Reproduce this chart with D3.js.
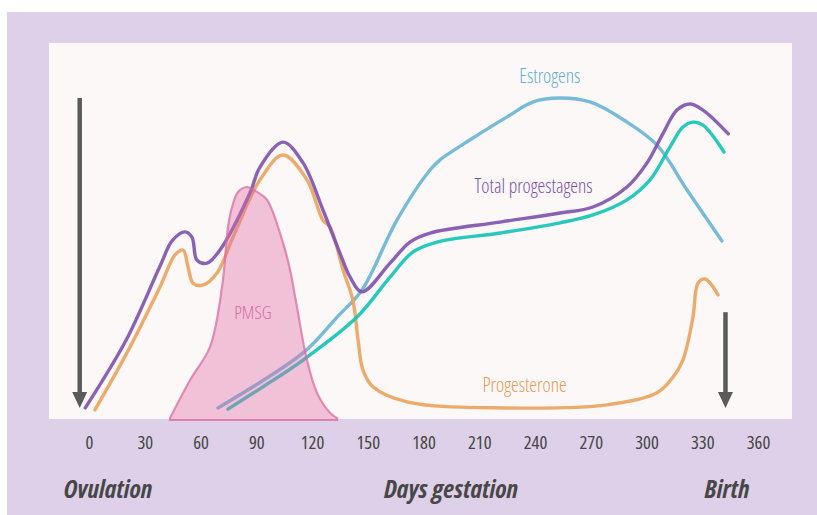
<!DOCTYPE html>
<html lang="en">
<head>
<meta charset="UTF-8">
<title>Hormones during gestation</title>
<script src="https://d3js.org/d3.v7.min.js"></script>
<style>
    body { margin: 0; background: #fff; }
    svg text { font-family: 'Open Sans', 'Liberation Sans Narrow', sans-serif; font-stretch: condensed; }
    .series-label { font-size: 19.5px; font-weight: 300; }
    .foot { font-size: 25.5px; font-weight: 700; font-style: italic; fill: #474747; }
</style>
</head>
<body>
<div id="chart"></div>
<script>
// days of gestation on x, relative level (0-100) on y
const dayTicks = [0, 30, 60, 90, 120, 150, 180, 210, 240, 270, 300, 330, 360];

const progestagensDays = [-2, 20, 38, 45, 51.7, 55.4, 58.1, 63.5, 70.5, 86.6, 92, 104.4, 115.2, 125.9, 135, 140.5, 146.9, 162, 172.7, 183.5, 221.2, 253.5, 271.2, 289.5, 300.3, 309, 316.4, 323.4, 330.4, 344];
const progestagensVals = [3.2, 21.2, 40.6, 47.7, 49.9, 48.5, 42.4, 41.6, 45.1, 60.2, 67.1, 73.7, 68.2, 55.7, 44.3, 37.9, 34, 41.6, 47.2, 49.6, 52.5, 54.9, 56.5, 61.8, 68.2, 76.1, 82.2, 83.8, 82.2, 75.9];

const progesteroneDays = [3.2, 20.4, 38.2, 46.3, 50.6, 53.3, 56, 61.3, 68.9, 77.5, 92, 104.4, 117.3, 125.9, 129.7, 136.7, 142, 144.8, 147.4, 152.8, 171.1, 225, 278.7, 305.7, 314.3, 319.6, 325, 327.7, 331.5, 338.5];
const progesteroneVals = [2.7, 17.8, 35.3, 43.8, 45.1, 40.6, 36.3, 35.8, 39, 48.5, 63.7, 70.3, 63.7, 53, 51.2, 39.8, 31.8, 21.2, 13.3, 8.8, 4.8, 3.2, 4, 7.2, 11.4, 15.9, 27.3, 36.3, 37.4, 33.2];

const estrogensDays = [69.4, 115.2, 133.5, 146.9, 165.7, 183.5, 188.9, 206.6, 225, 239, 253.5, 270, 288, 305.7, 321.8, 340.6];
const estrogensVals = [3.2, 17.8, 27.3, 34.5, 53, 66.3, 69, 74.8, 80.4, 84.4, 85.4, 84.3, 79.5, 72.9, 61, 47.5];

const tealDays = [74.8, 93.6, 115.2, 144.2, 162, 174.4, 187.3, 221.2, 253.5, 271.2, 289.5, 301.9, 312.6, 319.6, 325, 330.4, 341.7];
const tealVals = [2.9, 8.8, 15.9, 27.3, 37.9, 44.6, 47.2, 49.6, 52.3, 54.4, 58.4, 63.7, 72.4, 77.7, 79, 78.2, 71.1];

const pmsgDays = [43.6, 54.4, 65.1, 71.6, 74.8, 77, 80.2, 85, 90.4, 95.8, 104.4, 108.2, 111.9, 117.3, 122.7, 129.7, 133.5];
const pmsgVals = [0.5, 10.6, 19.4, 35.3, 51.2, 56.5, 60.5, 61.8, 60.5, 58.4, 47, 39.8, 30, 15.9, 7.2, 1.9, 0.5];

// event arrows: ovulation and birth
const arrowDays = [-5, 342.5];
const arrowTops = [85.4, 28.6];
const arrowTip = 3.2;

const width = 817, height = 515;

const svg = d3.select("#chart").append("svg")
    .attr("width", width)
    .attr("height", height);

svg.append("rect").attr("x", 7).attr("y", 12).attr("width", 810).attr("height", 503).attr("fill", "#ddd0e8");
svg.append("rect").attr("x", 49).attr("y", 43).attr("width", 743).attr("height", 376).attr("fill", "#fcf8f8");

const x = d3.scaleLinear().domain([0, 360]).range([89, 758]);
const y = d3.scaleLinear().domain([0, 100]).range([420, 43]);

const zip = (ds, vs) => ds.map((d, i) => ({day: d, v: vs[i]}));

const line = d3.line()
    .x(d => x(d.day))
    .y(d => y(d.v))
    .curve(d3.curveCatmullRom.alpha(0.5));

const series = [
    {pts: zip(estrogensDays, estrogensVals), color: "#6ab5d5"},
    {pts: zip(progesteroneDays, progesteroneVals), color: "#eba45e"},
    {pts: zip(tealDays, tealVals), color: "#14c4b6"},
    {pts: zip(progestagensDays, progestagensVals), color: "#7f55b0"}
];

svg.append("g").selectAll("path")
    .data(series)
    .enter().append("path")
    .attr("d", d => line(d.pts))
    .attr("fill", "none")
    .attr("stroke", d => d.color)
    .attr("stroke-width", 3.4)
    .attr("stroke-linecap", "round")
    .attr("stroke-opacity", 0.92);

// PMSG area laid over the lines
const area = d3.area()
    .x(d => x(d.day))
    .y0(y(0))
    .y1(d => y(d.v))
    .curve(d3.curveCatmullRom.alpha(0.5));

svg.append("path")
    .attr("d", area(zip(pmsgDays, pmsgVals)))
    .attr("fill", "rgba(225,105,165,0.39)")
    .attr("stroke", "rgba(218,110,160,0.75)")
    .attr("stroke-width", 2.2);

// arrows
const arrows = svg.append("g").attr("fill", "#5a5a5a").attr("stroke", "#5a5a5a");
arrowDays.forEach((d, i) => {
    const ax = x(d), top = y(arrowTops[i]), tip = y(arrowTip);
    arrows.append("line")
        .attr("x1", ax).attr("x2", ax)
        .attr("y1", top).attr("y2", tip - 12)
        .attr("stroke-width", 4.5);
    arrows.append("path")
        .attr("stroke", "none")
        .attr("d", `M${ax - 7.5},${tip - 16} L${ax + 7.5},${tip - 16} L${ax},${tip} Z`);
});

// series labels
const labels = [
    {text: "Estrogens", day: 248, v: 89.4, color: "#62afd0"},
    {text: "Total progestagens", day: 239.2, v: 60.2, color: "#7a50a9"},
    {text: "Progesterone", day: 234.4, v: 7.4, color: "#e69a52"},
    {text: "PMSG", day: 88.2, v: 26.8, color: "#d8709c"}
];
svg.append("g").selectAll("text")
    .data(labels)
    .enter().append("text")
    .attr("class", "series-label")
    .attr("x", d => x(d.day))
    .attr("y", d => y(d.v))
    .attr("text-anchor", "middle")
    .attr("fill", d => d.color)
    .style("font-size", d => d.text === "PMSG" ? "18.5px" : null)
    .text(d => d.text);

// x axis, labels only
const axis = svg.append("g")
    .attr("transform", "translate(0,436)")
    .call(d3.axisBottom(x).tickValues(dayTicks).tickSize(0).tickPadding(0));
axis.select(".domain").remove();
axis.selectAll(".tick text").attr("dy", "0.71em").attr("fill", "#454545")
    .style("font-size", "18.5px")
    .style("font-family", "'Open Sans', sans-serif");

svg.append("text").attr("class", "foot").attr("x", 108).attr("y", 498).attr("text-anchor", "middle").text("Ovulation");
svg.append("text").attr("class", "foot").attr("x", 451).attr("y", 498).attr("text-anchor", "middle").text("Days gestation");
svg.append("text").attr("class", "foot").attr("x", 727).attr("y", 498).attr("text-anchor", "middle").text("Birth");
</script>
</body>
</html>
